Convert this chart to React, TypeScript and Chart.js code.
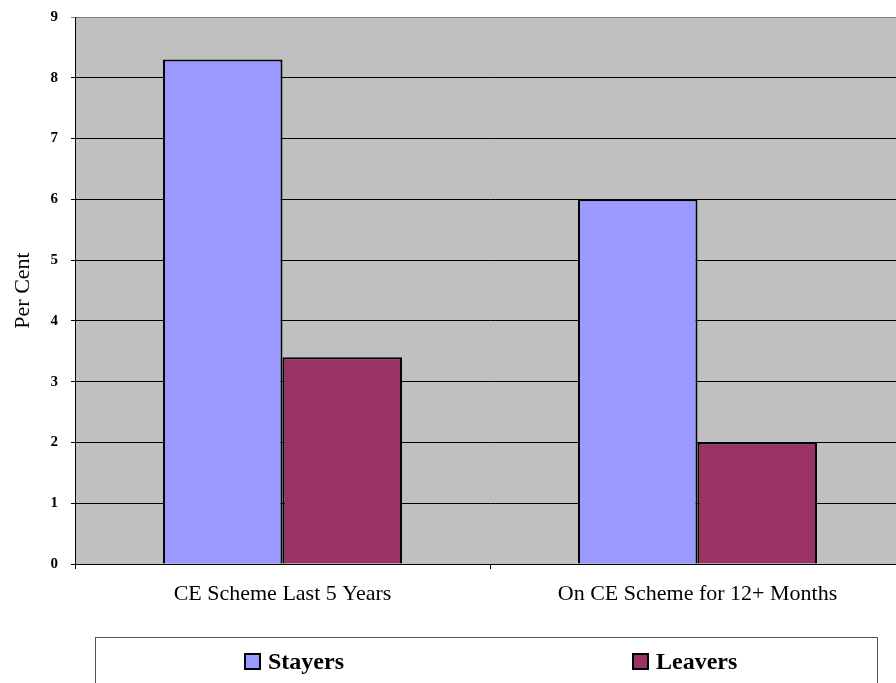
import React, { useEffect, useRef } from "react";
import { Chart, registerables } from "chart.js";

Chart.register(...registerables);

const categories = ["CE Scheme Last 5 Years", "On CE Scheme for 12+ Months"];
const stayers = [8.3, 6.0];
const leavers = [3.4, 2.0];
const seriesNames = ["Stayers", "Leavers"];
const seriesColors = ["#9999FF", "#993366"];
const yTitle = "Per Cent";

const SERIF = "'Liberation Serif', 'Times New Roman', serif";

// Grey plot background behind the bars
const plotBackground = {
  id: "plotBackground",
  beforeDraw(chart: any) {
    const { ctx, chartArea } = chart;
    ctx.save();
    ctx.fillStyle = "#C0C0C0";
    ctx.fillRect(chartArea.left, chartArea.top, chartArea.right - chartArea.left, chartArea.bottom - chartArea.top);
    ctx.restore();
  },
};

// Boxed legend below the chart, one column per series
const boxedLegend = {
  id: "boxedLegend",
  afterDraw(chart: any) {
    const { ctx } = chart;
    const boxLeft = 95;
    const boxRight = 877;
    const boxTop = 637;
    const boxBottom = 720;
    ctx.save();
    ctx.strokeStyle = "#555555";
    ctx.lineWidth = 1;
    ctx.strokeRect(boxLeft + 0.5, boxTop + 0.5, boxRight - boxLeft, boxBottom - boxTop);
    const datasets = chart.data.datasets;
    const colW = (boxRight - boxLeft) / datasets.length;
    ctx.font = `bold 24px ${SERIF}`;
    ctx.textBaseline = "alphabetic";
    ctx.textAlign = "left";
    datasets.forEach((ds: any, i: number) => {
      const label = ds.label as string;
      const sw = 15;
      const gap = 8;
      const tw = ctx.measureText(label).width;
      const total = sw + gap + tw;
      const cx = boxLeft + colW * (i + 0.5) + 4;
      const x0 = Math.round(cx - total / 2);
      const baseline = 669;
      ctx.fillStyle = ds.backgroundColor;
      ctx.fillRect(x0, 654, sw, sw);
      ctx.strokeStyle = "#000000";
      ctx.lineWidth = 2;
      ctx.strokeRect(x0, 654, sw, sw);
      ctx.fillStyle = "#000000";
      ctx.fillText(label, x0 + sw + gap, baseline);
    });
    ctx.restore();
  },
};

export default function App() {
  const canvasRef = useRef<HTMLCanvasElement | null>(null);

  useEffect(() => {
    const canvas = canvasRef.current;
    if (!canvas) return;
    const chart = new Chart(canvas, {
      type: "bar",
      data: {
        labels: categories,
        datasets: [
          {
            label: seriesNames[0],
            data: stayers,
            backgroundColor: seriesColors[0],
            borderColor: "#000000",
            borderWidth: 2,
            barPercentage: 1,
            categoryPercentage: 0.576,
          },
          {
            label: seriesNames[1],
            data: leavers,
            backgroundColor: seriesColors[1],
            borderColor: "#000000",
            borderWidth: 2,
            barPercentage: 1,
            categoryPercentage: 0.576,
          },
        ],
      },
      options: {
        responsive: false,
        animation: false,
        devicePixelRatio: 1,
        layout: { padding: { top: 17, right: 25, bottom: 100, left: 0 } },
        plugins: {
          legend: { display: false },
          tooltip: { enabled: false },
        },
        scales: {
          x: {
            grid: {
              offset: true,
              drawOnChartArea: false,
              drawTicks: true,
              tickLength: 5,
              color: "#000000",
            },
            border: { display: true, color: "#000000", width: 1 },
            ticks: {
              color: "#000000",
              font: { family: SERIF, size: 22 },
              padding: 12,
              maxRotation: 0,
            },
            afterFit(scale: any) {
              scale.height = 56;
              scale.paddingLeft = 0;
              scale.paddingRight = 0;
            },
          },
          y: {
            min: 0,
            max: 9,
            ticks: {
              stepSize: 1,
              color: "#000000",
              font: { family: SERIF, size: 15, weight: "bold" },
              padding: 13,
            },
            grid: {
              color: (c: any) => (c.tick && c.tick.value === 9 ? "#808080" : "#000000"),
              lineWidth: 1,
              tickLength: 4,
              drawTicks: true,
            },
            border: { display: true, color: "#000000", width: 1 },
            title: {
              display: true,
              text: yTitle,
              color: "#000000",
              font: { family: SERIF, size: 22 },
              padding: { top: 10, bottom: 0 },
            },
            afterFit(scale: any) {
              scale.width = 75;
              scale.paddingTop = 0;
              scale.paddingBottom = 0;
            },
          },
        },
      },
      plugins: [plotBackground, boxedLegend],
    });
    return () => chart.destroy();
  }, []);

  return (
    <div
      style={{
        position: "fixed",
        left: 0,
        top: 0,
        width: 896,
        height: 683,
        overflow: "hidden",
        background: "#ffffff",
      }}
    >
      <canvas ref={canvasRef} width={930} height={720} style={{ display: "block" }} />
    </div>
  );
}
